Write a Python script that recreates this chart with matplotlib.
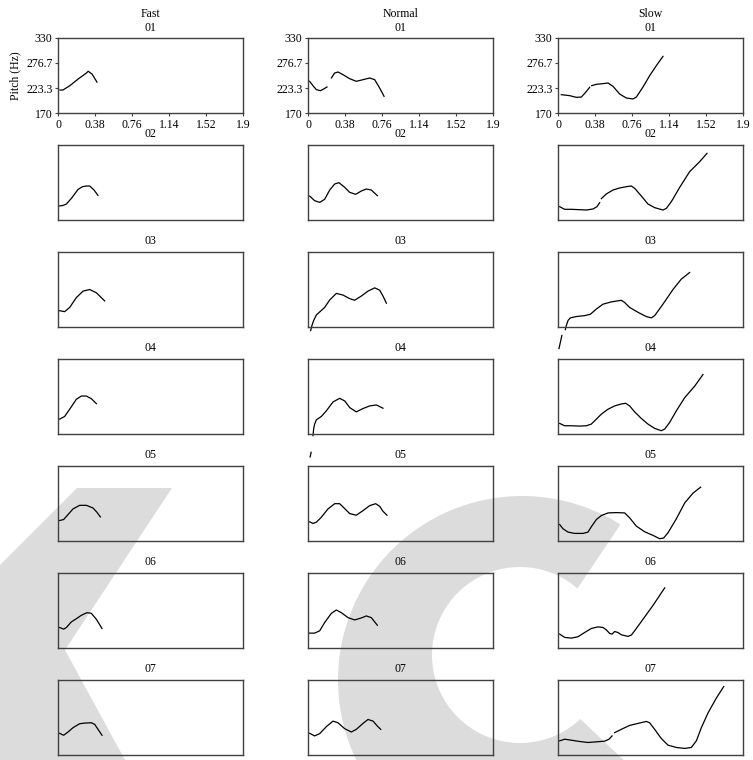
import matplotlib
matplotlib.use("Agg")
import matplotlib.pyplot as plt
from matplotlib.patches import Polygon, Circle

plt.rcParams['font.family'] = ['Liberation Serif', 'DejaVu Serif']
plt.rcParams['font.size'] = 8

speeds = ["Fast", "Normal", "Slow"]
utterances = ["01", "02", "03", "04", "05", "06", "07"]
x_ticks = [0, 0.38, 0.76, 1.14, 1.52, 1.9]
x_tick_labels = ["0", "0.38", "0.76", "1.14", "1.52", "1.9"]
y_ticks = [170, 223.3, 276.7, 330]
y_tick_labels = ["170", "223.3", "276.7", "330"]

# pitch contours: list of segments of (time s, pitch Hz)
fast = {
    "01": [[(0.02, 219), (0.05, 219), (0.12, 228), (0.21, 243), (0.29, 255),
            (0.31, 259), (0.35, 253), (0.40, 236)]],
    "02": [[(0.017, 200), (0.05, 201), (0.086, 204), (0.137, 216), (0.205, 235), (0.25, 241),
            (0.291, 242.5), (0.325, 242.5), (0.37, 234), (0.41, 222.6)]],
    "03": [[(0.017, 204.8), (0.068, 202.7), (0.12, 211.7), (0.188, 232.6), (0.257, 246.5),
            (0.325, 250), (0.394, 243), (0.479, 225.7)]],
    "04": [[(0.017, 201.7), (0.068, 207.4), (0.12, 222.9), (0.188, 244), (0.24, 251),
            (0.291, 251), (0.342, 245.4), (0.394, 234.8)]],
    "05": [[(0.017, 213.7), (0.058, 215.8), (0.103, 226.4), (0.154, 238.4), (0.222, 246.1),
            (0.291, 246.1), (0.359, 240.5), (0.40, 231.3), (0.435, 221.4)]],
    "06": [[(0.017, 213.7), (0.058, 210.2), (0.086, 213.7), (0.137, 225.7), (0.195, 233.4),
            (0.24, 239.8), (0.298, 245.4), (0.342, 244), (0.394, 231.3), (0.452, 211.6)]],
    "07": [[(0.017, 216.3), (0.058, 212.1), (0.103, 219.1), (0.154, 228.2), (0.222, 236.7),
            (0.274, 238.1), (0.342, 238.8), (0.377, 235.3), (0.411, 224.7), (0.452, 212.1)]],
}
normal = {
    "01": [[(0.017, 237.6), (0.051, 228.3), (0.086, 219.8), (0.127, 217.6), (0.161, 221.2),
            (0.195, 225.5)],
           [(0.24, 244.7), (0.274, 255.3), (0.308, 257.5), (0.359, 251.8), (0.428, 243.2),
            (0.496, 237.6), (0.565, 241.1), (0.633, 244.7), (0.685, 241.1), (0.736, 223.3),
            (0.781, 205.6)]],
    "02": [[(0.017, 221.2), (0.068, 211.2), (0.12, 207.6), (0.171, 214.1), (0.223, 234),
            (0.274, 246.8), (0.318, 249.6), (0.377, 239.7), (0.428, 229), (0.49, 224.8),
            (0.548, 231.9), (0.599, 236.1), (0.65, 234), (0.712, 221.9)]],
    "03": [[(0.027, 162.3), (0.041, 173.5), (0.058, 183.9), (0.086, 195.7), (0.127, 203.4),
            (0.171, 211.7), (0.223, 227.7), (0.291, 241.7), (0.359, 238.2), (0.428, 230.5),
            (0.479, 227), (0.548, 236.1), (0.616, 246.5), (0.685, 253.5), (0.736, 248.6),
            (0.77, 236.1), (0.805, 220.8)]],
    "04": [[(0.022, 121), (0.032, 131)],
           [(0.051, 166.5), (0.058, 180.6), (0.068, 191.1), (0.086, 200.3), (0.137, 207.4),
            (0.188, 219.3), (0.257, 238.4), (0.325, 246.1), (0.377, 240.5), (0.428, 226.4),
            (0.496, 217.2), (0.565, 224.3), (0.633, 229.9), (0.702, 232), (0.77, 225)]],
    "05": [[(0.017, 210.9), (0.051, 207.4), (0.086, 210.2), (0.137, 220.7), (0.205, 238.4),
            (0.274, 249.6), (0.325, 249.6), (0.377, 239.1), (0.428, 228.5), (0.496, 225),
            (0.565, 234.8), (0.633, 245.4), (0.695, 249.6), (0.736, 244), (0.77, 233.4),
            (0.811, 225)]],
    "06": [[(0.017, 201.7), (0.068, 201.7), (0.12, 206.7), (0.171, 224.3), (0.24, 244),
            (0.291, 251.1), (0.342, 245.4), (0.411, 234.8), (0.479, 229.9), (0.548, 234.1),
            (0.599, 238.4), (0.65, 234.8), (0.712, 218.6)]],
    "07": [[(0.017, 216.3), (0.068, 210.7), (0.12, 215.6), (0.188, 230.4), (0.257, 242.3),
            (0.308, 238.8), (0.377, 226.1), (0.445, 219.1), (0.496, 224.7), (0.565, 237.4),
            (0.616, 245.8), (0.668, 242.3), (0.712, 231.8), (0.747, 224.7)]],
}
slow = {
    "01": [[(0.034, 209.1), (0.12, 207), (0.188, 203.4), (0.24, 204.1), (0.284, 214.1),
            (0.325, 224.8)],
           [(0.346, 228.3), (0.394, 231.2), (0.462, 232.6), (0.514, 234), (0.565, 226.9),
            (0.633, 210.5), (0.702, 202), (0.77, 199.9), (0.805, 204.1), (0.873, 225.5),
            (0.941, 249.6), (1.01, 271), (1.078, 290.9)]],
    "02": [[(0.017, 198.4), (0.068, 192.8), (0.137, 192.8), (0.223, 192), (0.291, 191.3),
            (0.359, 193.5), (0.40, 198.4), (0.428, 207)],
           [(0.445, 215.5), (0.496, 225.5), (0.565, 234), (0.633, 238.3), (0.702, 241.1),
            (0.753, 242.5), (0.787, 237.6), (0.856, 221.2), (0.924, 204.1), (0.993, 196.3),
            (1.078, 191.3), (1.113, 194.9), (1.164, 209.1), (1.25, 239.7), (1.352, 273.1),
            (1.455, 294.4), (1.53, 312.2)]],
    "03": [[(0.01, 124), (0.025, 138), (0.04, 152)],
           [(0.075, 164.4), (0.086, 173.5), (0.103, 183.9), (0.127, 189.5), (0.188, 192.3),
            (0.274, 194.3), (0.332, 197.1), (0.394, 208.3), (0.462, 218.7), (0.548, 223.6),
            (0.65, 227), (0.685, 222.2), (0.736, 211.7), (0.822, 201.3), (0.907, 192.3),
            (0.959, 189.5), (0.993, 194.3), (1.078, 218.7), (1.181, 250), (1.267, 272.3),
            (1.352, 286.2)]],
    "04": [[(0.017, 192.6), (0.068, 187.6), (0.137, 187.6), (0.223, 186.9), (0.291, 187.6),
            (0.342, 191.1), (0.394, 201.7), (0.445, 212.3), (0.514, 222.9), (0.582, 229.9),
            (0.65, 234.1), (0.695, 235.5), (0.736, 229.9), (0.787, 217.2), (0.856, 203.1),
            (0.924, 191.1), (0.993, 182), (1.061, 177), (1.096, 180.6), (1.147, 194.7),
            (1.215, 219.3), (1.301, 247.5), (1.404, 272.2), (1.489, 296.9)]],
    "05": [[(0.017, 205.2), (0.051, 196.1), (0.103, 189), (0.171, 186.2), (0.257, 186.2),
            (0.308, 189), (0.342, 200.3), (0.394, 215.8), (0.445, 224.3), (0.514, 229.9),
            (0.599, 230.6), (0.685, 229.9), (0.736, 219.3), (0.805, 201.7), (0.89, 189.7),
            (0.976, 182), (1.044, 174.9), (1.085, 176.3), (1.13, 187.6), (1.215, 217.2),
            (1.301, 251.1), (1.387, 272.2), (1.465, 284.9)]],
    "06": [[(0.017, 199.6), (0.068, 192.6), (0.137, 191.1), (0.205, 194), (0.274, 203.1),
            (0.342, 211.6), (0.411, 215.1), (0.462, 213.7), (0.496, 208.8), (0.531, 201),
            (0.555, 199.6), (0.582, 205.2), (0.616, 203.1), (0.65, 198.2), (0.719, 194.7),
            (0.753, 197.5), (0.787, 206.7), (0.873, 231.3), (0.976, 261), (1.044, 282.1),
            (1.096, 298.3)]],
    "07": [[(0.017, 200.2), (0.068, 203.7), (0.137, 201.6), (0.223, 198.8), (0.308, 196.7),
            (0.394, 198.1), (0.479, 199.5), (0.524, 203.7), (0.555, 210.7)],
           [(0.582, 217.7), (0.65, 224.7), (0.736, 233.2), (0.822, 237.4), (0.907, 241.6),
            (0.941, 238.8), (0.993, 224.7), (1.061, 205.1), (1.13, 191), (1.215, 186.1),
            (1.301, 184), (1.369, 186.1), (1.421, 200.2), (1.472, 228.2), (1.541, 259.8),
            (1.626, 291.4), (1.702, 316)]],
}
contours = [fast, normal, slow]

W, H = 753, 760
fig = plt.figure(figsize=(W / 100, H / 100), dpi=100)

# background watermark (logo), drawn in pixel coordinates
bg = fig.add_axes([0, 0, 1, 1], zorder=-1)
bg.set_xlim(0, W)
bg.set_ylim(H, 0)
bg.axis("off")
wm = "#dcdcdc"
bg.add_patch(Polygon([(77, 488), (172, 488), (65, 650), (125, 760), (0, 760), (0, 565)],
                     color=wm, lw=0))
bg.add_patch(Circle((522, 680), 184, color=wm, lw=0))
bg.add_patch(Circle((520, 655), 88, color="white", lw=0))
bg.add_patch(Polygon([(540, 650), (563, 610), (704, 400), (800, 400), (800, 800),
                      (666, 800), (557, 697)], color="white", lw=0))


def px_axes(left, top, width, height):
    return fig.add_axes([left / W, 1 - (top + height) / H, width / W, height / H])


for c, speed in enumerate(speeds):
    for r, utt in enumerate(utterances):
        ax = px_axes(58 + 250 * c, 38 + 107 * r, 185, 75)
        ax.set_facecolor("none")
        for seg in contours[c][utt]:
            t, f0 = zip(*seg)
            ax.plot(t, f0, color="black", lw=0.9, clip_on=False)
        ax.set_xlim(0, 1.9)
        ax.set_ylim(170, 330)
        for s in ax.spines.values():
            s.set_color("#404040")
            s.set_linewidth(1.0)
        if r == 0:
            ax.set_title(f"{speed}\n{utt}", fontsize=8.5, pad=5, linespacing=1.2)
            ax.set_xticks(x_ticks)
            ax.set_xticklabels(x_tick_labels)
            ax.set_yticks(y_ticks)
            ax.set_yticklabels(y_tick_labels)
            ax.tick_params(length=2.5, width=0.8, pad=1.5, labelsize=8.5, color="#404040")
            if c == 0:
                ax.set_ylabel("Pitch (Hz)", fontsize=8.5, labelpad=3.5)
        else:
            ax.set_title(utt, fontsize=8.5, pad=6)
            ax.set_xticks([])
            ax.set_yticks([])

fig.savefig("out.png", dpi=100)
